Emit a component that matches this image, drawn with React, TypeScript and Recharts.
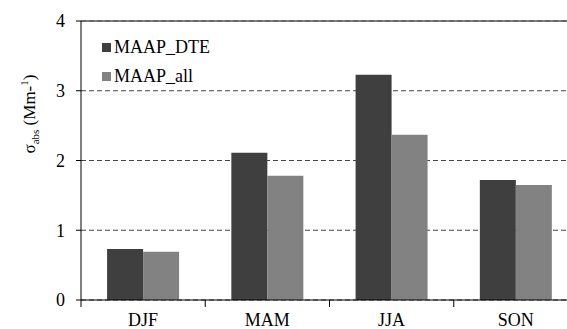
import React from 'react';
import { BarChart, Bar, XAxis, YAxis, CartesianGrid, ReferenceLine } from 'recharts';

const categories = ['DJF', 'MAM', 'JJA', 'SON'];
const maapDTE = [0.73, 2.11, 3.23, 1.72];
const maapAll = [0.69, 1.78, 2.37, 1.65];
const yTicks = [0, 1, 2, 3, 4];
const seriesNames = ['MAAP_DTE', 'MAAP_all'];
const seriesColors = ['#3f3f3f', '#828282'];

const data = categories.map((c, i) => ({ name: c, dte: maapDTE[i], all: maapAll[i] }));

const FONT = "'Liberation Serif', 'Times New Roman', serif";
const CHART_W = 590;
const CHART_H = 329;
const M_TOP = 21;
const M_RIGHT = 12;
const Y_W = 81;
const X_H = 29;
const PLOT_W = CHART_W - Y_W - M_RIGHT;
const PLOT_BOTTOM = CHART_H - X_H;
const BAND = PLOT_W / categories.length;

const XTick = (props: any) => {
  const { x, payload } = props;
  const left = x - BAND / 2;
  return (
    <g>
      <line x1={left} x2={left} y1={PLOT_BOTTOM} y2={PLOT_BOTTOM + 7} stroke="#000" strokeWidth={1} />
      <text x={x} y={PLOT_BOTTOM + 26} textAnchor="middle" fontFamily={FONT} fontSize={18} fill="#000">
        {payload.value}
      </text>
    </g>
  );
};

const YLabel = () => (
  <text
    transform="translate(35,114) rotate(-90)"
    textAnchor="middle"
    fontFamily={FONT}
    fontSize={17}
    fill="#000"
  >
    <tspan>σ</tspan>
    <tspan fontSize={11} dy={4}>abs</tspan>
    <tspan dy={-4}> (Mm-</tspan>
    <tspan fontSize={11} dy={-7}>1</tspan>
    <tspan dy={7}>)</tspan>
  </text>
);

export default function App() {
  return (
    <div style={{ position: 'fixed', left: 0, top: 0, width: 567, height: 329, overflow: 'hidden', background: '#fff' }}>
      <BarChart
        width={CHART_W}
        height={CHART_H}
        data={data}
        margin={{ top: M_TOP, right: M_RIGHT, left: 0, bottom: 0 }}
        barCategoryGap="21%"
        barGap={0}
      >
        <CartesianGrid vertical={false} stroke="#444" strokeDasharray="5 3" />
        <ReferenceLine y={4} stroke="#555" strokeWidth={1.5} />
        <XAxis
          dataKey="name"
          height={X_H}
          tickLine={false}
          axisLine={{ stroke: '#000' }}
          tick={<XTick />}
          interval={0}
        />
        <YAxis
          width={Y_W}
          domain={[0, 4]}
          ticks={yTicks}
          tickSize={5}
          tickMargin={11}
          axisLine={{ stroke: '#000' }}
          tickLine={{ stroke: '#000' }}
          tick={{ fontFamily: FONT, fontSize: 18, fill: '#000' }}
          label={{ content: () => <YLabel /> }}
        />
        <Bar dataKey="dte" name={seriesNames[0]} fill={seriesColors[0]} isAnimationActive={false} />
        <Bar dataKey="all" name={seriesNames[1]} fill={seriesColors[1]} isAnimationActive={false} />
      </BarChart>
      <div style={{ position: 'absolute', left: 102, top: 33, fontFamily: FONT, fontSize: 18, color: '#000', lineHeight: '29px' }}>
        {seriesNames.map((n, i) => (
          <div key={n} style={{ display: 'flex', alignItems: 'center', height: 29 }}>
            <span style={{ display: 'inline-block', width: 9, height: 9, background: seriesColors[i], marginRight: 3 }} />
            <span>{n}</span>
          </div>
        ))}
      </div>
    </div>
  );
}
